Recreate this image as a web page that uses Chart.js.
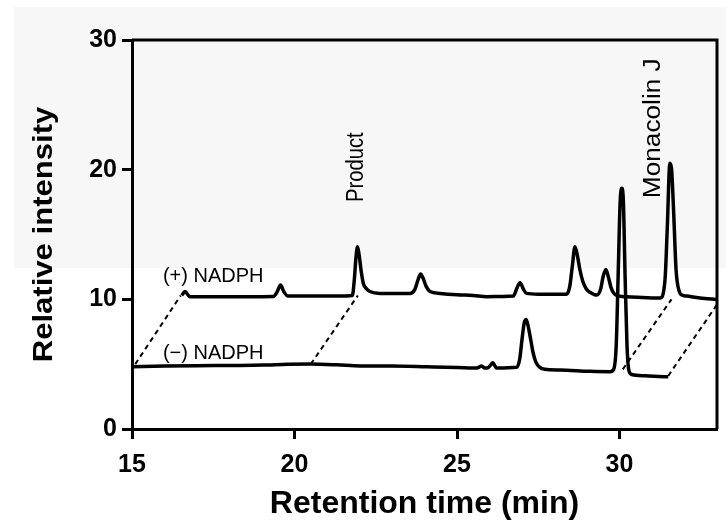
<!DOCTYPE html>
<html>
<head>
<meta charset="utf-8">
<title>Chromatogram</title>
<script src="https://cdn.jsdelivr.net/npm/chart.js@4"></script>
<style>
	html, body { margin: 0; padding: 0; background: #fff; }
	#wrap { width: 726px; height: 524px; }
</style>
</head>
<body>
<div id="wrap"><canvas id="hplcChart" width="726" height="524"></canvas></div>
<script>
// (+) NADPH trace (retention time, intensity)
const plusTime = [16.53, 16.63, 16.78, 17.5, 18.5, 19.35, 19.47, 19.57, 19.67, 19.8, 20.5, 21.3, 21.78, 21.84, 21.89, 21.94, 21.99, 22.05, 22.12, 22.22, 22.32, 22.63, 23.0, 23.55, 23.7, 23.8, 23.88, 23.96, 24.05, 24.17, 24.48, 25.0, 25.5, 25.91, 26.4, 26.73, 26.85, 26.94, 27.04, 27.14, 27.5, 28.0, 28.37, 28.47, 28.55, 28.63, 28.71, 28.78, 28.87, 28.98, 29.09, 29.3, 29.42, 29.5, 29.58, 29.66, 29.74, 29.83, 30.0, 30.22, 30.7, 31.25, 31.4, 31.47, 31.55, 31.6, 31.67, 31.74, 31.84, 31.95, 32.07, 32.48, 33.0];
const plusSignal = [10.3, 10.6, 10.2, 10.2, 10.2, 10.22, 10.6, 11.1, 10.6, 10.25, 10.25, 10.25, 10.3, 11.5, 13.2, 14.05, 13.4, 12.2, 11.2, 10.8, 10.6, 10.45, 10.45, 10.45, 10.75, 11.5, 11.95, 11.6, 11.0, 10.6, 10.45, 10.35, 10.3, 10.2, 10.22, 10.25, 10.9, 11.28, 10.8, 10.46, 10.4, 10.4, 10.4, 11.0, 12.6, 14.06, 13.3, 12.3, 11.4, 10.8, 10.55, 10.33, 10.8, 11.8, 12.3, 11.7, 10.9, 10.45, 10.25, 10.2, 10.15, 10.1, 11.5, 15.5, 20.5, 20.1, 16.5, 12.3, 10.6, 10.3, 10.25, 10.1, 9.98];

// (-) NADPH trace
const minusTime = [15.0, 16.0, 17.0, 18.0, 19.04, 19.8, 20.48, 21.3, 22.02, 23.0, 24.07, 25.0, 25.61, 25.76, 25.85, 25.95, 26.04, 26.1, 26.16, 26.22, 26.84, 26.93, 27.0, 27.07, 27.13, 27.2, 27.27, 27.34, 27.42, 27.55, 27.7, 28.17, 29.09, 29.71, 29.82, 29.9, 29.96, 30.02, 30.07, 30.12, 30.17, 30.23, 30.29, 30.38, 30.8, 31.2, 31.5];
const minusSignal = [4.8, 4.85, 4.88, 4.9, 4.93, 5.0, 5.01, 4.95, 4.86, 4.85, 4.8, 4.75, 4.7, 4.86, 4.7, 4.72, 4.95, 5.1, 4.9, 4.7, 4.76, 5.4, 6.9, 8.2, 8.45, 7.8, 6.86, 5.9, 5.2, 4.75, 4.6, 4.55, 4.45, 4.42, 4.6, 6.5, 12.0, 17.5, 18.56, 17.5, 12.0, 6.5, 4.5, 4.2, 4.1, 4.05, 4.03];

// dashed offset guides between the two traces
const guideTimes = [[15.1, 16.5], [20.5, 21.95], [30.1, 31.6], [31.5, 33.0]];
const guideLevels = [[5.0, 10.3], [5.0, 10.3], [4.6, 10.0], [4.1, 9.6]];

const xTicks = [15, 20, 25, 30];
const yTicks = [0, 10, 20, 30];

const peakLabels = ["Product", "Monacolin J"];
const peakLabelTime = [22.12, 31.25];
const peakLabelLevel = [17.5, 17.8];
const traceLabels = ["(+) NADPH", "(\u2212) NADPH"];
const traceLabelTime = [15.95, 15.95];
const traceLabelLevel = [11.33, 5.4];

const FONT = "'Liberation Sans', Arial, sans-serif";

function toPoints(xs, ys) {
	return xs.map((x, i) => ({ x: x, y: ys[i] }));
}

const datasets = [
	{
		label: "(+) NADPH",
		data: toPoints(plusTime, plusSignal),
		borderColor: "#000",
		borderWidth: 3.5,
		cubicInterpolationMode: "monotone",
	},
	{
		label: "(-) NADPH",
		data: toPoints(minusTime, minusSignal),
		borderColor: "#000",
		borderWidth: 3.5,
		cubicInterpolationMode: "monotone",
	},
];
guideTimes.forEach((xs, i) => {
	datasets.push({
		label: "guide " + (i + 1),
		data: toPoints(xs, guideLevels[i]),
		borderColor: "#000",
		borderWidth: 2,
		borderDash: [5, 4],
	});
});

const paperPlugin = {
	id: "paper",
	beforeDraw(chart) {
		const c = chart.ctx;
		c.save();
		c.fillStyle = "#fff";
		c.fillRect(0, 0, chart.width, chart.height);
		c.fillStyle = "#f7f7f7";
		c.fillRect(14, 7, chart.width - 14, 261);
		c.restore();
	},
};

function stretchedText(c, text, x, y, rotate, stretch) {
	c.save();
	c.translate(x, y);
	if (rotate) c.rotate(-Math.PI / 2);
	c.scale(stretch, 1);
	c.fillText(text, 0, 0);
	c.restore();
}

const textPlugin = {
	id: "texts",
	afterDraw(chart) {
		const c = chart.ctx;
		const a = chart.chartArea;
		const xs = chart.scales.x;
		const ys = chart.scales.y;
		c.save();
		// frame top and right
		c.strokeStyle = "#000";
		c.lineWidth = 3;
		c.beginPath();
		c.moveTo(a.left, a.top);
		c.lineTo(a.right, a.top);
		c.lineTo(a.right, a.bottom);
		c.stroke();

		c.fillStyle = "#000";
		c.textBaseline = "alphabetic";

		c.font = "20px " + FONT;
		c.textAlign = "left";
		traceLabels.forEach((t, i) => {
			c.fillText(t, xs.getPixelForValue(traceLabelTime[i]), ys.getPixelForValue(traceLabelLevel[i]));
		});
		c.font = "23px " + FONT;
		const peakStretch = [0.88, 1.14];
		peakLabels.forEach((t, i) => {
			stretchedText(c, t, xs.getPixelForValue(peakLabelTime[i]), ys.getPixelForValue(peakLabelLevel[i]), true, peakStretch[i]);
		});

		// axis titles
		c.font = "bold 32px " + FONT;
		c.textAlign = "center";
		stretchedText(c, "Retention time (min)", (a.left + a.right) / 2, 513, false, 1);
		c.font = "bold 28px " + FONT;
		stretchedText(c, "Relative intensity", 52, (a.top + a.bottom) / 2, true, 1.11);
		c.restore();
	},
};

new Chart(document.getElementById("hplcChart"), {
	type: "scatter",
	data: { datasets: datasets },
	options: {
		responsive: false,
		animation: false,
		showLine: true,
		elements: { point: { radius: 0, hoverRadius: 0 } },
		layout: { padding: { top: 40, right: 9, left: 0, bottom: 0 } },
		plugins: {
			legend: { display: false },
			tooltip: { enabled: false },
		},
		scales: {
			x: {
				type: "linear",
				min: 15,
				max: 33,
				afterBuildTicks: (scale) => {
					scale.ticks = xTicks.map((v) => ({ value: v }));
				},
				afterFit: (scale) => {
					scale.height = 95;
				},
				border: { display: true, color: "#000", width: 3 },
				grid: { drawOnChartArea: false, color: "#000", tickLength: 10, tickWidth: 3 },
				ticks: { color: "#000", padding: 11, font: { family: FONT, size: 25, weight: "bold" } },
			},
			y: {
				min: 0,
				max: 30,
				afterBuildTicks: (scale) => {
					scale.ticks = yTicks.map((v) => ({ value: v }));
				},
				afterFit: (scale) => {
					scale.width = 132;
				},
				border: { display: true, color: "#000", width: 3 },
				grid: { drawOnChartArea: false, color: "#000", tickLength: 10, tickWidth: 3 },
				ticks: { color: "#000", padding: 5, font: { family: FONT, size: 25, weight: "bold" } },
			},
		},
	},
	plugins: [paperPlugin, textPlugin],
});
</script>
</body>
</html>
